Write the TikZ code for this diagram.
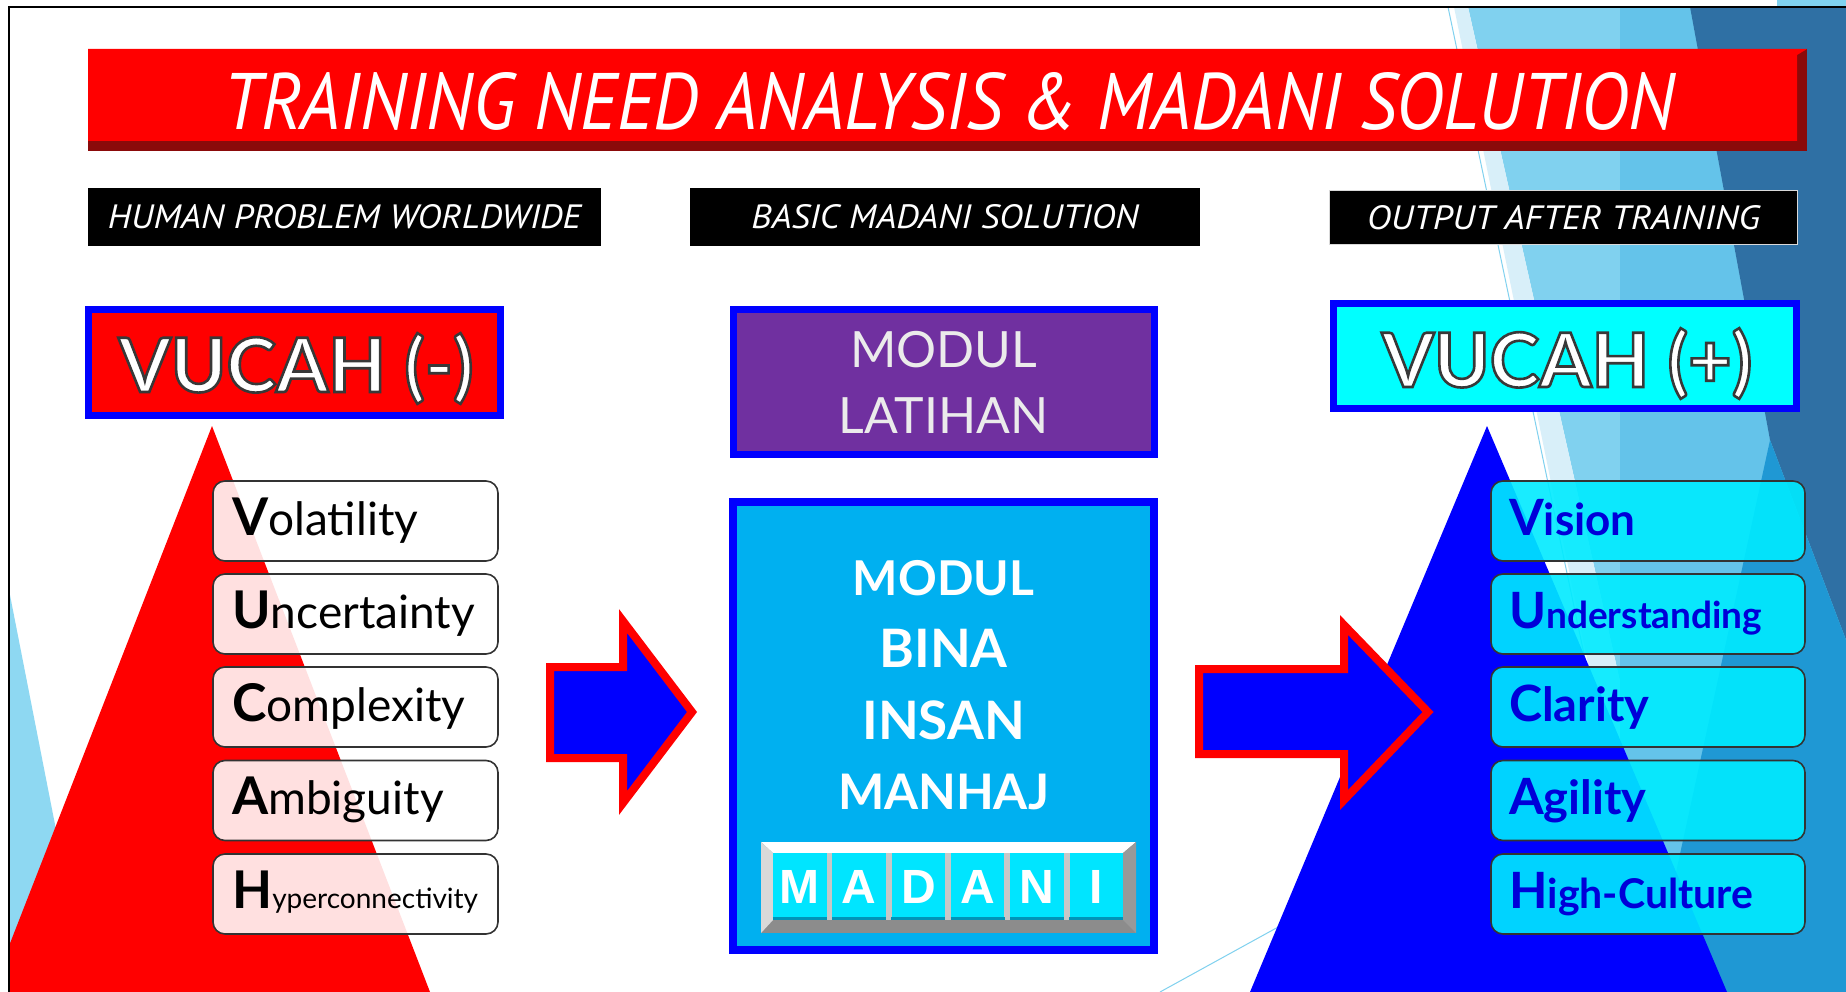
\documentclass[tikz,border=0pt]{standalone}
\usepackage{fontspec}
\setmainfont{Lato}
\newfontfamily\titlefont{PT Sans}
\newfontfamily\keyfont{Liberation Sans}
% huruf putih bergaris tepi
\newcommand\outlined[1]{\special{pdf:literal direct 2 Tr 2.6 w 0.22 0.22 0.22 RG}#1\special{pdf:literal direct 0 Tr}}
\definecolor{vred}{HTML}{FF0000}
\definecolor{vblue}{HTML}{0000FF}
\definecolor{vcyan}{HTML}{00FFFF}
\definecolor{modpurple}{HTML}{7030A0}
\definecolor{modsky}{HTML}{00B0F0}
\definecolor{keycyan}{HTML}{00E5FF}
\definecolor{keyedge}{HTML}{0095B8}
\definecolor{bgpale}{HTML}{D8EFF9}
\definecolor{bglight}{HTML}{80D1EF}
\definecolor{bgmid}{HTML}{64C3EA}
\definecolor{bgsteel}{HTML}{2F70A4}
\definecolor{bgsea}{HTML}{1F98D4}
\definecolor{bgsliver}{HTML}{8ED8F2}
\definecolor{itemblue}{HTML}{0000D8}
\definecolor{titledark}{HTML}{8B0A0A}
\tikzset{
  blacklbl/.style={fill=black, text=white, inner sep=0pt, font=\titlefont\itshape},
  headbox/.style={draw=vblue, line width=7pt, inner sep=0pt},
  vtext/.style={anchor=base, inner sep=0pt, text=white, font=\bfseries\fontsize{75}{75}\selectfont},
  itembox/.style={draw=black!80, line width=1.6pt, rounded corners=12pt, minimum height=80pt, inner sep=0pt},
  itemtxt/.style={anchor=base west, inner sep=0pt},
  blockarrow/.style={fill=vblue, draw=vred, line width=8pt},
  keybox/.style={fill=keycyan, minimum width=53.5pt, minimum height=67pt, inner sep=0pt, text=white,
    font=\keyfont\bfseries\fontsize{48}{48}\selectfont}
}
\begin{document}
\begin{tikzpicture}[x=1pt,y=-1pt]
\useasboundingbox (0,0) rectangle (1846,992);
\fill[white] (0,0) rectangle (1846,992);
\fill[bglight] (1777,0) rectangle (1846,7);
% fondo
\begin{scope}
\clip (9,7) rectangle (1846,992);
\fill[bglight] (1468,7) -- (1846,7) -- (1846,992) -- (1690,992) -- cycle;
\fill[bgpale] (1454,7) -- (1468,7) -- (1690,992) -- (1655,992) -- cycle;
\draw[bglight, line width=1pt] (1448,7) -- (1655,992);
\fill[bgmid] (1620,7) -- (1690,7) -- (1770,440) -- (1660,992) -- (1620,992) -- cycle;
\fill[bgsteel] (1690,7) -- (1846,7) -- (1846,640) -- (1770,440) -- cycle;
\fill[bgsea] (1770,440) -- (1846,640) -- (1846,992) -- (1650,992) -- cycle;
\fill[bgsliver] (9,590) -- (60,850) -- (9,960) -- cycle;
\draw[bglight, line width=1pt] (1160,992) -- (1300,915);
% piramides
\fill[vred] (212,426) -- (430,992) -- (-9,992) -- cycle;
\fill[vblue] (1487,426) -- (1727,992) -- (1250,992) -- cycle;
\end{scope}
\draw[line width=2pt] (9,992) -- (9,7) -- (1846,7);
% judul
\fill[titledark] (88,49) rectangle (1807,151);
\fill[vred] (88,49) -- (1807,49) -- (1797,55) -- (1797,141) -- (88,141) -- cycle;
\node[text=white, inner sep=0pt] (title) at (949,101.5)
  {\titlefont\itshape\resizebox{1450pt}{57pt}{TRAINING NEED ANALYSIS \& MADANI SOLUTION}};
\node[blacklbl, minimum width=513pt, minimum height=58pt] (lblhuman) at (344.5,217)
  {\resizebox{473pt}{24pt}{HUMAN PROBLEM WORLDWIDE}};
\node[blacklbl, minimum width=510pt, minimum height=58pt] (lblbasic) at (945,217)
  {\resizebox{387pt}{24pt}{BASIC MADANI SOLUTION}};
\node[blacklbl, draw=black!15, line width=1pt, minimum width=468pt, minimum height=54pt] (lbloutput) at (1563.5,217.5)
  {\resizebox{393pt}{24pt}{OUTPUT AFTER TRAINING}};
% kotak VUCAH
\node[headbox, fill=vred, minimum width=412pt, minimum height=106pt] (vneg) at (294.5,362.5) {};
\node[headbox, fill=vcyan, minimum width=463pt, minimum height=105pt] (vpos) at (1565,356) {};
\node[vtext] (vnegtxt) at (296,392) {\outlined{VUCAH (-)}};
\node[vtext] (vpostxt) at (1567,387) {\outlined{VUCAH (+)}};
% modul
\node[headbox, fill=modpurple, minimum width=421pt, minimum height=145pt, align=center,
  text=black!8, font=\fontsize{50}{66}\selectfont] (latihan) at (943.5,382) {MODUL\\LATIHAN};
\node[headbox, line width=8pt, fill=modsky, minimum width=421pt, minimum height=448pt] (bina) at (943.5,726) {};
\foreach \word/\size/\yy [count=\k] in {MODUL/48/578, BINA/53/648, INSAN/53/720, MANHAJ/49/792}
  \node[text=white, inner sep=0pt, font=\bfseries\fontsize{\size}{\size}\selectfont] (binaline\k) at (943.5,\yy) {\word};
% papan MADANI
\fill[black!45] (761,842) rectangle (1136,933);
\fill[white] (761,842) -- (1136,842) -- (1123,853) -- (773,853) -- cycle;
\fill[black!15] (761,842) -- (773,853) -- (773,920) -- (761,933) -- cycle;
\fill[black!40] (1136,842) -- (1123,853) -- (1123,920) -- (1136,933) -- cycle;
\fill[black!22] (773,853) rectangle (1123,920);
\foreach \ch [count=\k] in {M,A,D,A,N,I} {
  \node[keybox] (key\k) at (799.75+59.3*\k-59.3,886.5) {\ch};
  \draw[keyedge, line width=3pt] ([yshift=1.5pt]key\k.south west) -- ([yshift=1.5pt]key\k.south east);
}
% panah
\filldraw[blockarrow] (550,667) -- (623,667) -- (623,621) -- (692,712) -- (623,803) -- (623,758) -- (550,758) -- cycle;
\filldraw[blockarrow] (1199,669) -- (1344,669) -- (1344,625) -- (1428,712) -- (1344,800) -- (1344,754) -- (1199,754) -- cycle;
% senarai kiri
\foreach \first/\rest/\rsize/\yy [count=\k] in {V/olatility/46/521, U/ncertainty/46/614, C/omplexity/46/707,
    A/mbiguity/46/800.5, H/yperconnectivity/28/894} {
  \node[itembox, fill=white, fill opacity=0.88, minimum width=285pt] (lbox\k) at (355.5,\yy) {};
  \node[itemtxt] (ltxt\k) at (232,\yy+14)
    {{\bfseries\fontsize{52}{52}\selectfont\first}{\fontsize{\rsize}{\rsize}\selectfont\rest}};
}
% senarai kanan
\foreach \first/\rest/\rsize/\yy [count=\k] in {V/ision/44/521, U/nderstanding/37/614, C/larity/47/707,
    A/gility/47/800.5, H/igh-Culture/41/894} {
  \node[itembox, fill=vcyan!92!blue, fill opacity=0.9, minimum width=314pt] (rbox\k) at (1648,\yy) {};
  \node[itemtxt, text=itemblue] (rtxt\k) at (1509,\yy+14)
    {\bfseries{\fontsize{50}{50}\selectfont\first}{\fontsize{\rsize}{\rsize}\selectfont\rest}};
}
\end{tikzpicture}
\end{document}
